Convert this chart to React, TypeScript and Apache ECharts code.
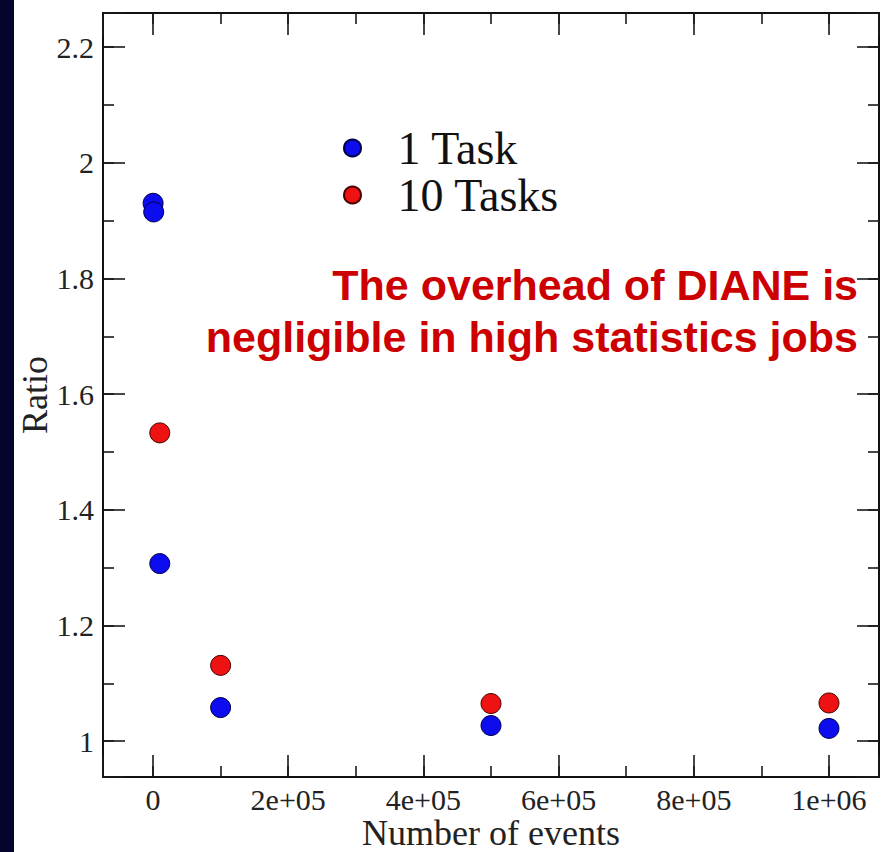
import React, { useEffect, useRef } from "react";
import * as echarts from "echarts";

const seriesNames = ["1 Task", "10 Tasks"];
const oneTaskEvents = [100, 1000, 10000, 100000, 500000, 1000000];
const oneTaskRatio = [1.93, 1.915, 1.307, 1.058, 1.027, 1.022];
const tenTaskEvents = [10000, 100000, 500000, 1000000];
const tenTaskRatio = [1.533, 1.131, 1.065, 1.066];

const xTickValues = [0, 200000, 400000, 600000, 800000, 1000000];
const xTickLabels = ["0", "2e+05", "4e+05", "6e+05", "8e+05", "1e+06"];
const yTickValues = [1, 1.2, 1.4, 1.6, 1.8, 2, 2.2];
const yTickLabels = ["1", "1.2", "1.4", "1.6", "1.8", "2", "2.2"];

const xTitle = "Number of events";
const yTitle = "Ratio";
const noteLines = ["The overhead of DIANE is", "negligible in high statistics jobs"];

const X_MIN = -74000;
const X_MAX = 1074000;
const Y_MIN = 0.938;
const Y_MAX = 2.259;

function lookup(values: number[], labels: string[], v: number, tol: number) {
  for (let i = 0; i < values.length; i++) {
    if (Math.abs(values[i] - v) < tol) return labels[i];
  }
  return "";
}

export default function App() {
  const ref = useRef<HTMLDivElement>(null);
  useEffect(() => {
    if (!ref.current) return;
    const chart = echarts.init(ref.current, null, { renderer: "svg" });
    const serif = "Liberation Serif";
    const tickColor = "#1a1a1a";
    const labelStyle = { color: "#222", fontFamily: serif, fontSize: 30 };

    const mkX = (pos: "bottom" | "top", step: number, len: number, labels: boolean, name?: string) => ({
      type: "value",
      position: pos,
      min: X_MIN,
      max: X_MAX,
      minInterval: step,
      maxInterval: step,
      splitNumber: Math.round((X_MAX - X_MIN) / step),
      axisLine: { show: false, onZero: false },
      splitLine: { show: false },
      axisTick: { show: true, inside: true, length: len, lineStyle: { color: tickColor, width: 1.6 } },
      axisLabel: labels
        ? {
            show: true,
            margin: 7,
            ...labelStyle,
            formatter: (v: number) => lookup(xTickValues, xTickLabels, v, 1),
          }
        : { show: false },
      name: name,
      nameLocation: "middle",
      nameGap: 38,
      nameMoveOverlap: false,
      nameTextStyle: { color: "#222", fontFamily: serif, fontSize: 36, lineHeight: 36 },
    });
    const mkY = (pos: "left" | "right", step: number, len: number, labels: boolean, name?: string) => ({
      type: "value",
      position: pos,
      min: Y_MIN,
      max: Y_MAX,
      minInterval: step,
      maxInterval: step,
      splitNumber: Math.round((Y_MAX - Y_MIN) / step),
      axisLine: { show: false, onZero: false },
      splitLine: { show: false },
      axisTick: { show: true, inside: true, length: len, lineStyle: { color: tickColor, width: 1.6 } },
      axisLabel: labels
        ? {
            show: true,
            margin: 9,
            ...labelStyle,
            formatter: (v: number) => lookup(yTickValues, yTickLabels, v, 1e-6),
          }
        : { show: false },
      name: name,
      nameLocation: "middle",
      nameGap: 50,
      nameMoveOverlap: false,
      nameTextStyle: { color: "#222", fontFamily: serif, fontSize: 36, lineHeight: 36 },
    });

    const pairs = (xs: number[], ys: number[]) => xs.map((x, i) => [x, ys[i]]);

    chart.setOption({
      animation: false,
      backgroundColor: "#ffffff",
      grid: {
        left: 103,
        right: 3,
        top: 13,
        bottom: 75,
        show: true,
        borderColor: "#111",
        borderWidth: 2,
        containLabel: false,
        outerBoundsMode: "none",
      },
      xAxis: [
        mkX("bottom", 200000, 22, true, xTitle),
        mkX("bottom", 100000, 11, false),
        mkX("top", 200000, 22, false),
        mkX("top", 100000, 11, false),
      ],
      yAxis: [
        mkY("left", 0.2, 22, true, yTitle),
        mkY("left", 0.1, 11, false),
        mkY("right", 0.2, 22, false),
        mkY("right", 0.1, 11, false),
      ],
      legend: {
        show: true,
        orient: "vertical",
        left: 343,
        top: 125,
        padding: 0,
        itemWidth: 80,
        itemHeight: 17,
        itemGap: 1,
        icon: "circle",
        selectedMode: false,
        textStyle: { color: "#111", fontFamily: serif, fontSize: 46, lineHeight: 44 },
        data: seriesNames,
      },
      graphic: [
        {
          type: "rect",
          left: 0,
          top: 0,
          shape: { x: 0, y: 0, width: 14, height: 852 },
          style: { fill: "#04042f" },
          z: 100,
        },
        {
          type: "text",
          right: 24,
          top: 259,
          z: 100,
          style: {
            text: noteLines.join("\n"),
            fill: "#cc0000",
            font: 'bold 43px "Liberation Sans", Arial, sans-serif',
            textAlign: "right",
            lineHeight: 52,
          },
        },
      ],
      series: [
        {
          name: seriesNames[0],
          type: "scatter",
          xAxisIndex: 0,
          yAxisIndex: 0,
          symbol: "circle",
          symbolSize: 20,
          itemStyle: { color: "#0c0cee", borderColor: "#00004a", borderWidth: 1, opacity: 1 },
          data: pairs(oneTaskEvents, oneTaskRatio),
        },
        {
          name: seriesNames[1],
          type: "scatter",
          xAxisIndex: 0,
          yAxisIndex: 0,
          symbol: "circle",
          symbolSize: 20,
          itemStyle: { color: "#ee1212", borderColor: "#4a0000", borderWidth: 1, opacity: 1 },
          data: pairs(tenTaskEvents, tenTaskRatio),
        },
      ],
    });
    return () => chart.dispose();
  }, []);
  return (
    <div
      ref={ref}
      style={{ position: "fixed", left: 0, top: 0, width: 882, height: 852, background: "#fff" }}
    />
  );
}
